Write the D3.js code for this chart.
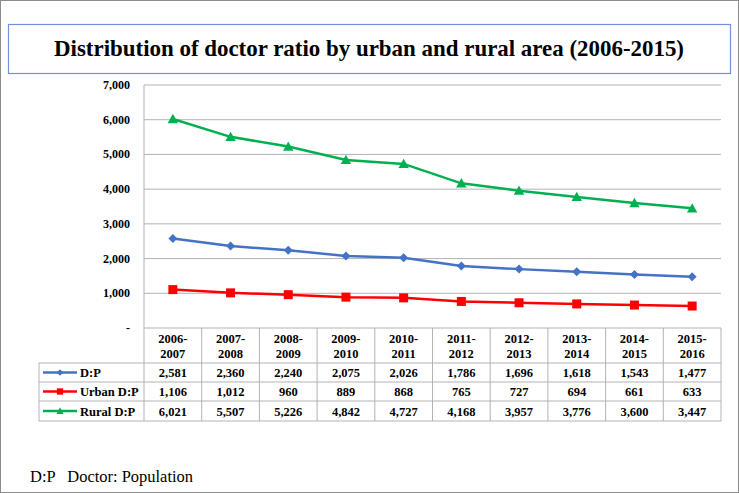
<!DOCTYPE html>
<html lang="en">
<head>
    <meta charset="UTF-8">
    <title>Doctor ratio</title>
    <script src="https://cdnjs.cloudflare.com/ajax/libs/d3/7.8.5/d3.min.js"></script>
    <style>
        body { margin: 0; background: #fff; }
    </style>
</head>
<body>
<div id="chart"></div>
<script>
    const width = 739;
    const height = 493;

    // data
    const years = ["2006-2007", "2007-2008", "2008-2009", "2009-2010", "2010-2011",
        "2011-2012", "2012-2013", "2013-2014", "2014-2015", "2015-2016"];
    const dp = [2581, 2360, 2240, 2075, 2026, 1786, 1696, 1618, 1543, 1477];
    const urbanDp = [1106, 1012, 960, 889, 868, 765, 727, 694, 661, 633];
    const ruralDp = [6021, 5507, 5226, 4842, 4727, 4168, 3957, 3776, 3600, 3447];
    const yTicks = [0, 1000, 2000, 3000, 4000, 5000, 6000, 7000];

    const series = [
        {name: "D:P", values: dp, color: "#4472C4", marker: "diamond"},
        {name: "Urban D:P", values: urbanDp, color: "#FF0000", marker: "square"},
        {name: "Rural D:P", values: ruralDp, color: "#00B050", marker: "triangle"}
    ];

    const plotLeft = 144, plotRight = 721, plotTop = 85, plotBottom = 328;
    const tableLeft = 39;
    const rowLines = [328, 363, 382, 401, 421];

    const svg = d3.select("#chart").append("svg")
        .attr("width", width)
        .attr("height", height)
        .attr("font-family", "'Liberation Serif', 'Times New Roman', serif");

    // outer border
    svg.append("rect")
        .attr("x", 0.5).attr("y", 0.5)
        .attr("width", width - 1).attr("height", height - 1)
        .attr("fill", "#fff").attr("stroke", "#8c8c8c");

    // title box
    svg.append("rect")
        .attr("x", 8.5).attr("y", 24.5)
        .attr("width", 722).attr("height", 49)
        .attr("fill", "#fff").attr("stroke", "#6f93d5").attr("stroke-width", 1.2);
    svg.append("text")
        .attr("x", 369).attr("y", 56)
        .attr("text-anchor", "middle")
        .attr("font-size", 24).attr("font-weight", "bold")
        .attr("textLength", 630).attr("lengthAdjust", "spacingAndGlyphs")
        .text("Distribution of doctor ratio by urban and rural area (2006-2015)");

    const x = d3.scaleBand().domain(years).range([plotLeft, plotRight]);
    const y = d3.scaleLinear().domain([0, 7000]).range([plotBottom, plotTop]);

    // gridlines
    svg.append("g").selectAll("line").data(yTicks.slice(1)).enter()
        .append("line")
        .attr("x1", plotLeft).attr("x2", plotRight)
        .attr("y1", d => y(d)).attr("y2", d => y(d))
        .attr("stroke", "#b3b3b3").attr("stroke-width", 1);

    // y axis labels
    svg.append("g").selectAll("text").data(yTicks).enter()
        .append("text")
        .attr("x", 130).attr("y", d => y(d) + 4)
        .attr("text-anchor", "end")
        .attr("font-size", 12).attr("font-weight", "bold")
        .text(d => d === 0 ? "-" : d3.format(",")(d));

    // table grid
    const grid = svg.append("g").attr("stroke", "#b3b3b3").attr("stroke-width", 1);
    rowLines.forEach(function (ry, i) {
        grid.append("line")
            .attr("x1", i === 0 ? plotLeft : tableLeft).attr("x2", plotRight)
            .attr("y1", ry).attr("y2", ry);
    });
    grid.append("line")
        .attr("x1", plotLeft).attr("x2", plotLeft)
        .attr("y1", plotTop).attr("y2", rowLines[4]);
    grid.append("line")
        .attr("x1", tableLeft).attr("x2", tableLeft)
        .attr("y1", rowLines[1]).attr("y2", rowLines[4]);
    years.forEach(function (yr) {
        const xx = x(yr) + x.bandwidth();
        grid.append("line")
            .attr("x1", xx).attr("x2", xx)
            .attr("y1", rowLines[0]).attr("y2", rowLines[4]);
    });

    // header labels
    const header = svg.append("g").selectAll("text").data(years).enter()
        .append("text")
        .attr("x", d => x(d) + x.bandwidth() / 2)
        .attr("text-anchor", "middle")
        .attr("font-size", 12.5).attr("font-weight", "bold");
    header.append("tspan").attr("x", d => x(d) + x.bandwidth() / 2).attr("y", 343)
        .text(d => d.split("-")[0] + "-");
    header.append("tspan").attr("x", d => x(d) + x.bandwidth() / 2).attr("y", 358)
        .text(d => d.split("-")[1]);

    function drawMarker(g, type, color, cx, cy, scale) {
        if (type === "diamond") {
            const s = 4.5 * scale;
            g.append("path")
                .attr("d", `M${cx},${cy - s}L${cx + s},${cy}L${cx},${cy + s}L${cx - s},${cy}Z`)
                .attr("fill", color);
        } else if (type === "square") {
            const s = 4.5 * scale;
            g.append("rect")
                .attr("x", cx - s).attr("y", cy - s)
                .attr("width", 2 * s).attr("height", 2 * s)
                .attr("fill", color);
        } else {
            const s = 5.2 * scale;
            g.append("path")
                .attr("d", `M${cx},${cy - s}L${cx + s},${cy + s * 0.8}L${cx - s},${cy + s * 0.8}Z`)
                .attr("fill", color);
        }
    }

    const line = d3.line()
        .x((d, i) => x(years[i]) + x.bandwidth() / 2)
        .y(d => y(d));

    series.forEach(function (s, si) {
        const g = svg.append("g");
        g.append("path")
            .attr("d", line(s.values))
            .attr("fill", "none")
            .attr("stroke", s.color)
            .attr("stroke-width", 2.5);
        s.values.forEach(function (v, i) {
            drawMarker(g, s.marker, s.color, x(years[i]) + x.bandwidth() / 2, y(v), 1);
        });

        // table row
        const rowMid = (rowLines[si + 1] + rowLines[si + 2]) / 2;
        g.selectAll("text.val").data(s.values).enter()
            .append("text")
            .attr("class", "val")
            .attr("x", (d, i) => x(years[i]) + x.bandwidth() / 2)
            .attr("y", rowMid + 4.5)
            .attr("text-anchor", "middle")
            .attr("font-size", 12.5).attr("font-weight", "bold")
            .attr("fill", "#000")
            .text(d => d3.format(",")(d));

        // legend key
        g.append("line")
            .attr("x1", 43).attr("x2", 77)
            .attr("y1", rowMid).attr("y2", rowMid)
            .attr("stroke", s.color).attr("stroke-width", 2.5);
        drawMarker(g, s.marker, s.color, 60, rowMid, 0.7);
        g.append("text")
            .attr("x", 80).attr("y", rowMid + 4.5)
            .attr("font-size", 12.5).attr("font-weight", "bold")
            .text(s.name);
    });

    // footnote
    svg.append("text")
        .attr("x", 30).attr("y", 482)
        .attr("font-size", 16)
        .attr("xml:space", "preserve")
        .attr("textLength", 163).attr("lengthAdjust", "spacingAndGlyphs")
        .text("D:P   Doctor: Population");
</script>
</body>
</html>
